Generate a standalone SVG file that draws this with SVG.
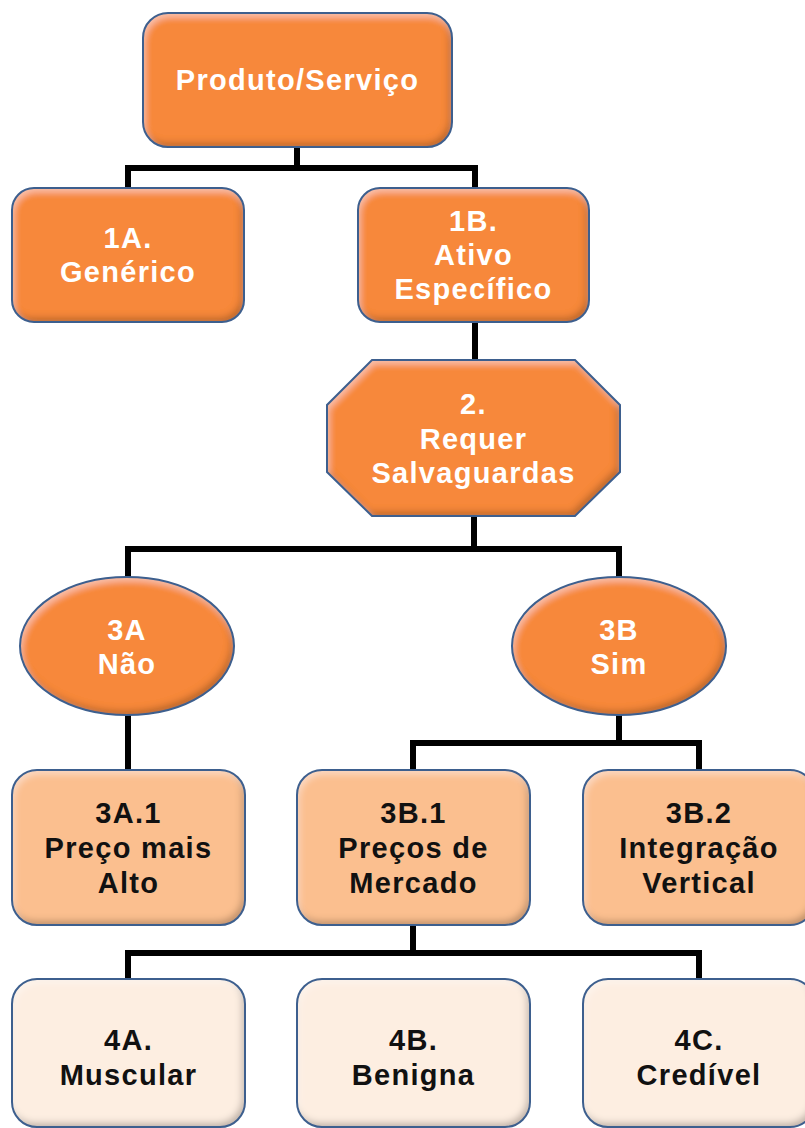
<svg xmlns="http://www.w3.org/2000/svg" width="805" height="1128" viewBox="0 0 805 1128">
<style>
  .n1 { fill: #F7883A; filter: url(#bevel); }
  .n2 { fill: #FBBF8F; filter: url(#bevel); }
  .n3 { fill: #FDEEE1; filter: url(#bevel); }
  .o { fill: none; stroke: #3D5F8E; stroke-width: 2; }
  .t { font-family: "Liberation Sans", Arial, sans-serif; font-weight: bold; font-size: 29px; letter-spacing: 1.3px; text-anchor: middle; }
  .w { fill: #FFFFFF; }
  .k { fill: #111111; }
  .c { fill: none; stroke: #000; stroke-width: 6; stroke-linejoin: miter; stroke-linecap: square; }
</style>
<defs>
  <filter id="bevel" x="-10%" y="-10%" width="120%" height="125%">
    <feGaussianBlur in="SourceAlpha" stdDeviation="3.5" result="blur"/>
    <feOffset in="blur" dx="-3" dy="-4" result="ob"/>
    <feComposite in="SourceAlpha" in2="ob" operator="arithmetic" k2="1" k3="-1" result="sh"/>
    <feFlood flood-color="#3a1a00" flood-opacity="0.5"/>
    <feComposite in2="sh" operator="in" result="shadow"/>
    <feOffset in="blur" dx="2" dy="4" result="ob2"/>
    <feComposite in="SourceAlpha" in2="ob2" operator="arithmetic" k2="1" k3="-1" result="hl"/>
    <feFlood flood-color="#fff" flood-opacity="0.4"/>
    <feComposite in2="hl" operator="in" result="hilite"/>
    <feMerge><feMergeNode in="SourceGraphic"/><feMergeNode in="shadow"/><feMergeNode in="hilite"/></feMerge>
  </filter>
</defs>
<rect width="805" height="1128" fill="#FFFFFF"/>
<g id="connectors">
  <path class="c" d="M297 147 V168 M128 186 V168 H475 V186"/>
  <path class="c" d="M475 322 V359"/>
  <path class="c" d="M474 516 V549 M128 575 V549 H619 V575"/>
  <path class="c" d="M128 715 V768"/>
  <path class="c" d="M619 715 V743 M413 768 V743 H699 V768"/>
  <path class="c" d="M413 925 V953 M128 977 V953 H699 V977"/>
</g>
<g id="produto">
  <rect class="n1" x="143" y="13" width="309" height="134" rx="25"/>
  <rect class="o" x="143" y="13" width="309" height="134" rx="25"/>
  <text class="t w" x="297.5" y="90">Produto/Serviço</text>
</g>
<g id="n1a">
  <rect class="n1" x="12" y="188" width="232" height="134" rx="22"/>
  <rect class="o" x="12" y="188" width="232" height="134" rx="22"/>
  <text class="t w" x="128" y="248">1A.</text>
  <text class="t w" x="128" y="282">Genérico</text>
</g>
<g id="n1b">
  <rect class="n1" x="358" y="188" width="231" height="134" rx="22"/>
  <rect class="o" x="358" y="188" width="231" height="134" rx="22"/>
  <text class="t w" x="473.5" y="231">1B.</text>
  <text class="t w" x="473.5" y="265">Ativo</text>
  <text class="t w" x="473.5" y="299">Específico</text>
</g>
<g id="n2">
  <polygon class="n1" points="372,360 575,360 620,405 620,472 575,516 372,516 327,472 327,405"/>
  <polygon class="o" points="372,360 575,360 620,405 620,472 575,516 372,516 327,472 327,405"/>
  <text class="t w" x="473.5" y="414">2.</text>
  <text class="t w" x="473.5" y="449">Requer</text>
  <text class="t w" x="473.5" y="483">Salvaguardas</text>
</g>
<g id="n3a">
  <ellipse class="n1" cx="127" cy="646" rx="107" ry="69"/>
  <ellipse class="o" cx="127" cy="646" rx="107" ry="69"/>
  <text class="t w" x="127" y="640">3A</text>
  <text class="t w" x="127" y="674">Não</text>
</g>
<g id="n3b">
  <ellipse class="n1" cx="619" cy="646" rx="107" ry="69"/>
  <ellipse class="o" cx="619" cy="646" rx="107" ry="69"/>
  <text class="t w" x="619" y="640">3B</text>
  <text class="t w" x="619" y="674">Sim</text>
</g>
<g id="n3a1">
  <rect class="n2" x="12" y="770" width="233" height="155" rx="25"/>
  <rect class="o" x="12" y="770" width="233" height="155" rx="25"/>
  <text class="t k" x="128.5" y="823">3A.1</text>
  <text class="t k" x="128.5" y="858">Preço mais</text>
  <text class="t k" x="128.5" y="893">Alto</text>
</g>
<g id="n3b1">
  <rect class="n2" x="297" y="770" width="233" height="155" rx="25"/>
  <rect class="o" x="297" y="770" width="233" height="155" rx="25"/>
  <text class="t k" x="413.5" y="823">3B.1</text>
  <text class="t k" x="413.5" y="858">Preços de</text>
  <text class="t k" x="413.5" y="893">Mercado</text>
</g>
<g id="n3b2">
  <rect class="n2" x="583" y="770" width="232" height="155" rx="25"/>
  <rect class="o" x="583" y="770" width="232" height="155" rx="25"/>
  <text class="t k" x="699" y="823">3B.2</text>
  <text class="t k" x="699" y="858">Integração</text>
  <text class="t k" x="699" y="893">Vertical</text>
</g>
<g id="n4a">
  <rect class="n3" x="12" y="979" width="233" height="148" rx="25"/>
  <rect class="o" x="12" y="979" width="233" height="148" rx="25"/>
  <text class="t k" x="128.5" y="1050">4A.</text>
  <text class="t k" x="128.5" y="1085">Muscular</text>
</g>
<g id="n4b">
  <rect class="n3" x="297" y="979" width="233" height="148" rx="25"/>
  <rect class="o" x="297" y="979" width="233" height="148" rx="25"/>
  <text class="t k" x="413.5" y="1050">4B.</text>
  <text class="t k" x="413.5" y="1085">Benigna</text>
</g>
<g id="n4c">
  <rect class="n3" x="583" y="979" width="232" height="148" rx="25"/>
  <rect class="o" x="583" y="979" width="232" height="148" rx="25"/>
  <text class="t k" x="699" y="1050">4C.</text>
  <text class="t k" x="699" y="1085">Credível</text>
</g>
</svg>
